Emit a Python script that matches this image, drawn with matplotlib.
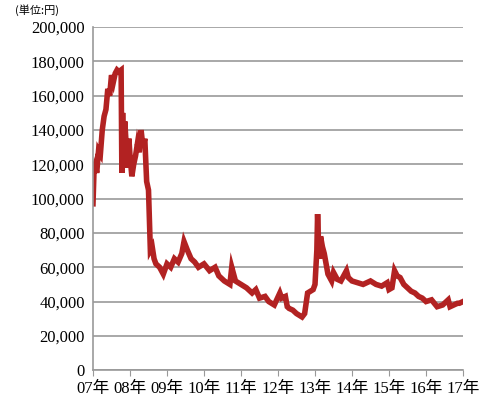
import matplotlib
matplotlib.use("Agg")
import matplotlib.pyplot as plt

years = [2007.0,2007.03,2007.06,2007.1,2007.15,2007.2,2007.25,2007.3,2007.35,2007.4,2007.45,2007.5,2007.55,2007.6,2007.65,2007.7,2007.76,2007.78,2007.8,2007.83,2007.86,2007.9,2007.93,2007.97,2008.0,2008.05,2008.1,2008.15,2008.2,2008.25,2008.3,2008.35,2008.4,2008.45,2008.5,2008.55,2008.6,2008.65,2008.7,2008.8,2008.9,2009.0,2009.1,2009.2,2009.3,2009.4,2009.46,2009.55,2009.65,2009.75,2009.85,2010.0,2010.15,2010.3,2010.4,2010.55,2010.7,2010.75,2010.85,2011.0,2011.15,2011.3,2011.4,2011.5,2011.65,2011.75,2011.9,2012.05,2012.1,2012.2,2012.25,2012.3,2012.4,2012.5,2012.65,2012.72,2012.8,2012.95,2013.0,2013.05,2013.07,2013.1,2013.12,2013.15,2013.2,2013.25,2013.35,2013.45,2013.5,2013.6,2013.7,2013.85,2013.9,2014.0,2014.15,2014.3,2014.5,2014.65,2014.8,2014.95,2015.0,2015.08,2015.15,2015.22,2015.3,2015.4,2015.5,2015.6,2015.7,2015.8,2015.9,2016.0,2016.15,2016.3,2016.45,2016.6,2016.65,2016.75,2016.85,2016.9,2017.0]
prices = [97000,118000,120000,115000,128000,126000,140000,148000,152000,164000,160000,172000,168000,173000,175000,174000,175000,115000,150000,120000,145000,130000,118000,135000,125000,113000,120000,125000,132000,127000,140000,130000,135000,110000,105000,70000,72000,65000,62000,60000,56000,62000,60000,65000,63000,68000,75000,70000,65000,63000,60000,62000,58000,60000,55000,52000,50000,60000,52000,50000,48000,45000,47000,42000,43000,40000,38000,45000,42000,43000,37000,36000,35000,33000,31000,33000,45000,47000,50000,70000,91000,72000,65000,78000,72000,68000,56000,52000,57000,53000,52000,58000,54000,52000,51000,50000,52000,50000,49000,51000,47000,48000,58000,55000,54000,50000,48000,46000,45000,43000,42000,40000,41000,37000,38000,41000,37000,38000,39000,39000,40000]
yticks = [0,20000,40000,60000,80000,100000,120000,140000,160000,180000,200000]
xlabels = ["07年","08年","09年","10年","11年","12年","13年","14年","15年","16年","17年"]

plt.rcParams['font.family'] = ['Liberation Serif', 'Noto Sans CJK JP']
fig = plt.figure(figsize=(5.0, 4.05), dpi=100)
ax = fig.add_axes([0.186, 0.086, 0.74, 0.847])
ax.plot(years, prices, color="#b22222", lw=4, solid_joinstyle="miter")
ax.set_xlim(2007, 2017)
ax.set_ylim(0, 200000)
ax.set_yticks(yticks)
ax.set_yticklabels([f"{v:,}" for v in yticks], fontsize=12)
ax.set_xticks(range(2007, 2018))
ax.set_xticklabels(xlabels, fontsize=12)
ax.grid(axis="y", color="#999999", lw=1.2)
ax.set_axisbelow(True)
for s in ["top", "right"]:
    ax.spines[s].set_visible(False)
for s in ["left", "bottom"]:
    ax.spines[s].set_color("#999999")
    ax.spines[s].set_linewidth(1.2)
ax.tick_params(axis="y", length=0, pad=6)
ax.tick_params(axis="x", length=4, color="#999999", direction="out")
fig.text(0.03, 0.965, "(単位:円)", fontsize=8, family=['Noto Sans CJK JP'])
fig.savefig("out.png")
